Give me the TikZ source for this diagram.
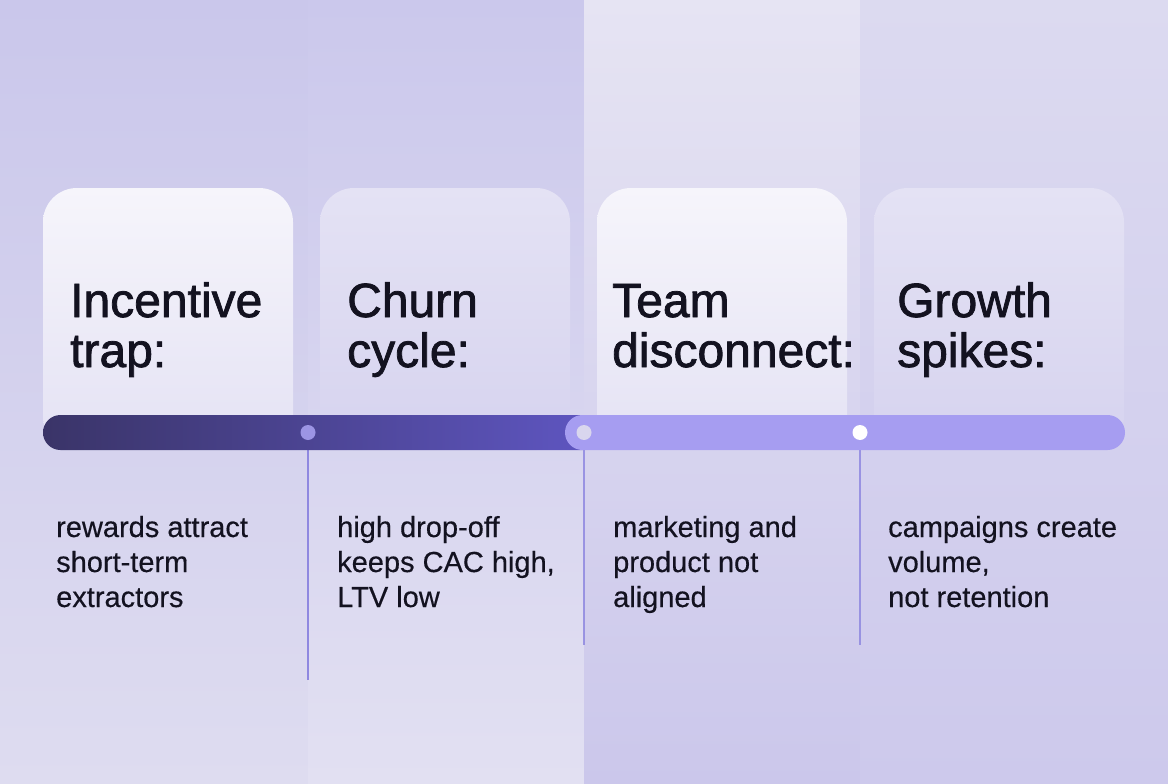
\documentclass[tikz,border=0pt]{standalone}
\usepackage{fontspec}
\setmainfont{Liberation Sans}[FakeBold=0.4]
\newfontfamily\headfont{Liberation Sans}[FakeBold=1.6]
\usepackage{xcolor}
\usetikzlibrary{positioning}
\definecolor{ink}{HTML}{131220}
\definecolor{coltopA}{HTML}{CAC7EB}
\definecolor{colbotA}{HTML}{DEDCF0}
\definecolor{coltopB}{HTML}{CBC8EC}
\definecolor{colbotB}{HTML}{E2E0F2}
\definecolor{coltopC}{HTML}{E6E4F3}
\definecolor{colbotC}{HTML}{CBC7EB}
\definecolor{coltopD}{HTML}{DCDAF0}
\definecolor{colbotD}{HTML}{CDC9EC}
\definecolor{paneltop}{HTML}{F6F5FB}
\definecolor{panelbot}{HTML}{E4E2F4}
\definecolor{glasstop}{HTML}{E4E2F4}
\definecolor{glassbot}{HTML}{D6D3EF}
\definecolor{bardark}{HTML}{3A3468}
\definecolor{barmid}{HTML}{433A7C}
\definecolor{barend}{HTML}{5F56C2}
\definecolor{barsoft}{HTML}{A69DF1}
\definecolor{stemcol}{HTML}{8F88E0}
\definecolor{dotlav}{HTML}{9C95E4}
\definecolor{dotgrey}{HTML}{D9D6EE}
\tikzset{
    card/.style={rounded corners=34pt,minimum width=250pt,minimum height=262pt,
      inner sep=0pt,outer sep=0pt},
    cardlight/.style={card,top color=paneltop,bottom color=panelbot},
    cardglass/.style={card,top color=glasstop,bottom color=glassbot},
    headline/.style={font=\headfont\fontsize{48}{50}\selectfont,text=ink,
      align=left,anchor=base west,inner sep=0pt},
    blurb/.style={font=\fontsize{29}{35}\selectfont,text=ink,
      align=left,anchor=base west,inner sep=0pt},
    marker/.style={circle,minimum size=15pt,inner sep=0pt},
    stem/.style={draw=stemcol,line width=1.8pt}
}

\begin{document}
\begin{tikzpicture}[x=1pt,y=-1pt,node distance=27pt]
  \useasboundingbox (0,0) rectangle (1168,784);
  % background columns
  \shade[top color=coltopA,bottom color=colbotA] (0,0) rectangle (308,784);
  \shade[top color=coltopB,bottom color=colbotB] (308,0) rectangle (584,784);
  \shade[top color=coltopC,bottom color=colbotC] (584,0) rectangle (860,784);
  \shade[top color=coltopD,bottom color=colbotD] (860,0) rectangle (1168,784);
  % cards
  \node[cardlight,anchor=north west] (c1) at (43,188) {};
  \node[cardglass,right=of c1] (c2) {};
  \node[cardlight,right=of c2] (c3) {};
  \node[cardglass,right=of c3] (c4) {};
  % stems under the bar
  \coordinate (m1) at (308,432.5);
  \coordinate (m2) at (584,432.5);
  \coordinate (m3) at (860,432.5);
  \coordinate (s1) at (308,680);
  \coordinate (s2) at (584,645);
  \coordinate (s3) at (860,645);
  \draw[stem] (m1) -- (s1);
  \draw[stem,opacity=0.85] (m2) -- (s2);
  \draw[stem,opacity=0.85] (m3) -- (s3);
  % timeline bar
  \shade[left color=bardark,middle color=barmid,right color=barend,
    rounded corners=17.5pt] (43,415) rectangle (600,450);
  \fill[barsoft,rounded corners=17.5pt] (565,415) rectangle (1125,450);
  \node[marker,fill=dotlav] (d1) at (m1) {};
  \node[marker,fill=dotgrey] (d2) at (m2) {};
  \node[marker,fill=white] (d3) at (m3) {};
  % titles
  \node[headline] (t1) at (70,367) {Incentive\\trap:};
  \node[headline] (t2) at (347,367) {Churn\\cycle:};
  \node[headline] (t3) at (612,367) {Team\\disconnect:};
  \node[headline] (t4) at (897,367) {Growth\\spikes:};
  % descriptions
  \node[blurb] (b1) at (56,607) {rewards attract\\short-term\\extractors};
  \node[blurb] (b2) at (337,607) {high drop-off\\keeps CAC high,\\LTV low};
  \node[blurb] (b3) at (613,607) {marketing and\\product not\\aligned};
  \node[blurb] (b4) at (888,607) {campaigns create\\volume,\\not retention};
\end{tikzpicture}
\end{document}
